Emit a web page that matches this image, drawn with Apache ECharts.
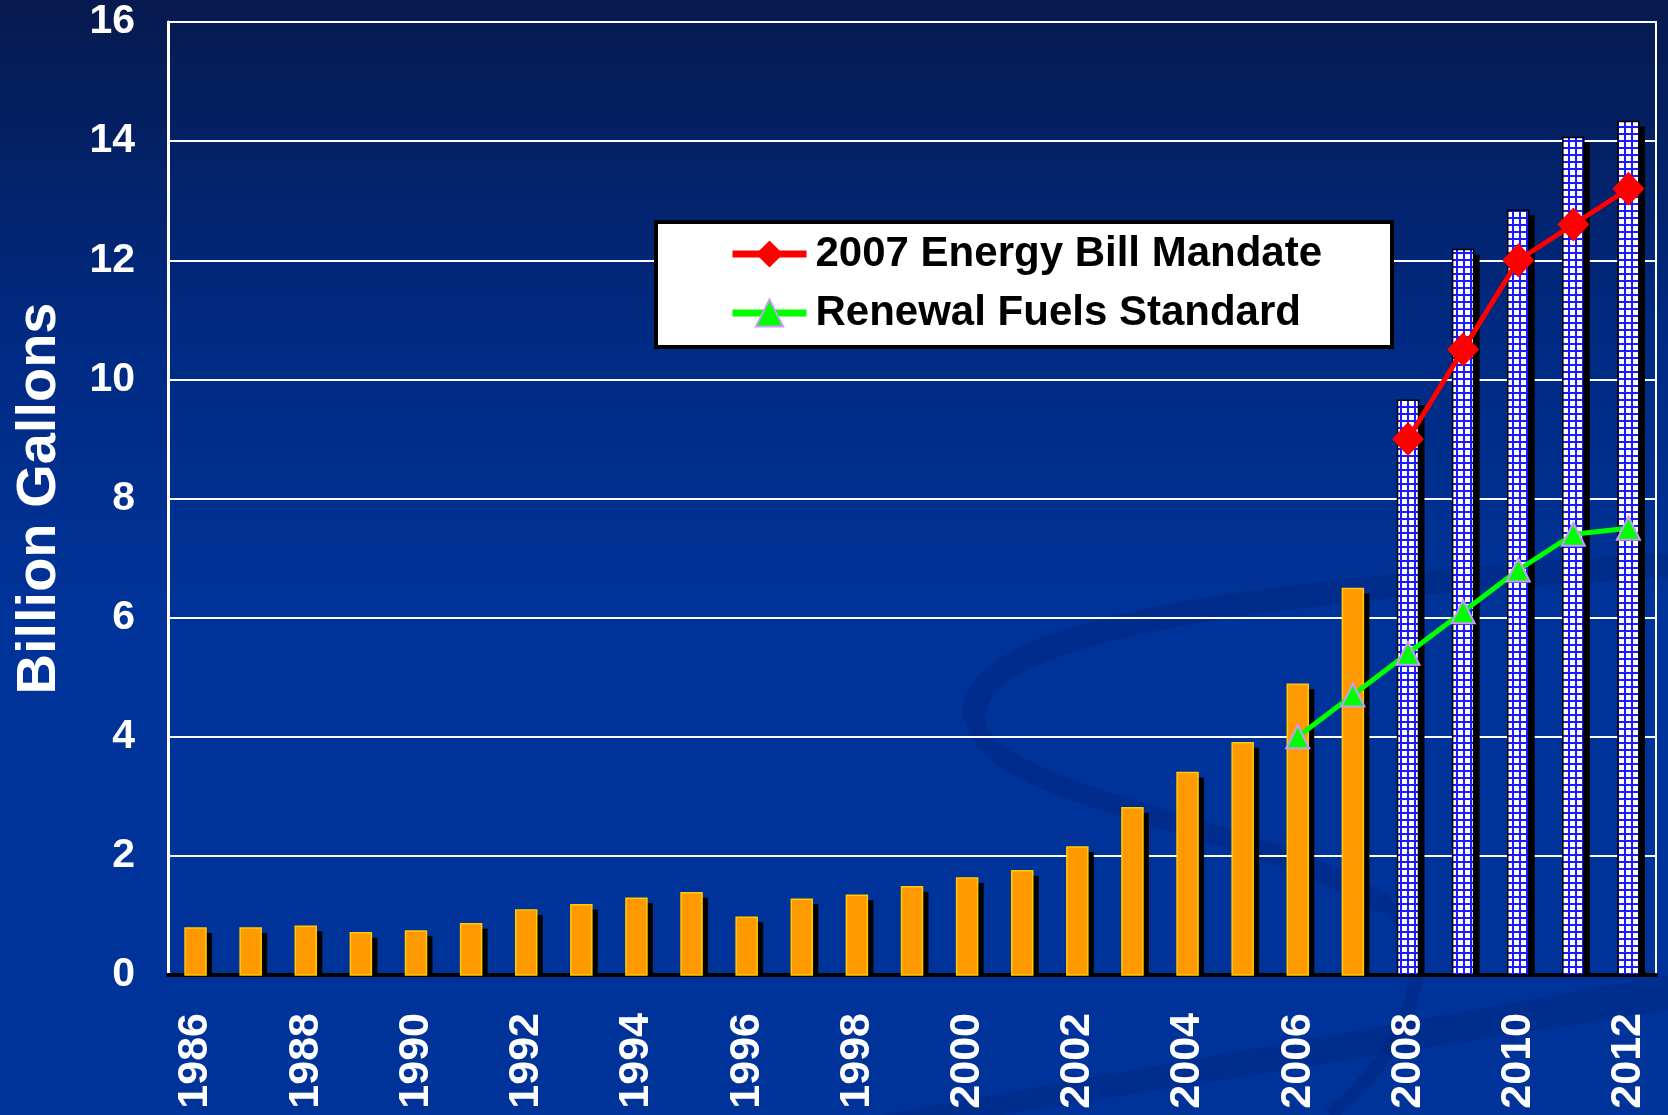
<!DOCTYPE html>
<html lang="en">
<head>
<meta charset="UTF-8">
<title>Ethanol production</title>
<script src="https://cdn.jsdelivr.net/npm/echarts@6/dist/echarts.min.js"></script>
<style>
    html, body { margin: 0; padding: 0; }
    #main { width: 1668px; height: 1115px; }
</style>
</head>
<body>
<div id="main"></div>

<script type="text/javascript">
    var years = ['1986', '1987', '1988', '1989', '1990', '1991', '1992', '1993', '1994',
        '1995', '1996', '1997', '1998', '1999', '2000', '2001', '2002', '2003', '2004',
        '2005', '2006', '2007', '2008', '2009', '2010', '2011', '2012'];

    // production 1986 - 2007 (orange bars)
    var actual = [0.79, 0.79, 0.82, 0.71, 0.74, 0.86, 1.09, 1.18, 1.29, 1.38, 0.97,
        1.27, 1.34, 1.48, 1.63, 1.75, 2.15, 2.81, 3.40, 3.90, 4.88, 6.49];
    // capacity 2008 - 2012 (hatched bars)
    var projected = [9.65, 12.18, 12.84, 14.06, 14.33];
    // 2008 - 2012
    var mandate = [9.0, 10.5, 12.0, 12.6, 13.2];
    // 2006 - 2012
    var rfs = [4.0, 4.7, 5.4, 6.1, 6.8, 7.4, 7.5];

    var yMin = 0, yMax = 16, yStep = 2;

    var font = '"Liberation Sans", Arial, sans-serif';

    // [index, value] pairs, first arr placed from start
    function pairsFrom(start, arr) {
        return arr.map(function (v, i) { return [start + i, v]; });
    }
    function tail(arr) {
        var out = [];
        for (var i = 0; i < years.length - arr.length; i++) out.push(null);
        return out.concat(arr);
    }

    // blue grid pattern for the hatched bars
    var pat = document.createElement('canvas');
    pat.width = 7;
    pat.height = 7;
    var pc = pat.getContext('2d');
    pc.fillStyle = '#ffffff';
    pc.fillRect(0, 0, 7, 7);
    pc.fillStyle = '#1a1aff';
    pc.fillRect(0, 0, 7, 2);
    pc.fillRect(0, 0, 2, 7);

    // bar with a hard black drop shadow (shadow on fill only)
    function shadowBar(fill, stroke) {
        return function (params, api) {
            var top = api.coord([api.value(0), api.value(1)]);
            var base = api.coord([api.value(0), 0]);
            var w = 21;
            var h = base[1] - top[1];
            return {
                type: 'group',
                children: [
                    {
                        type: 'rect',
                        shape: {x: top[0] - w / 2 + 6, y: top[1] + 5, width: w, height: Math.max(h - 5, 0)},
                        style: {fill: '#000'}
                    },
                    {
                        type: 'rect',
                        shape: {x: top[0] - w / 2, y: top[1], width: w, height: h},
                        style: {fill: fill, stroke: stroke, lineWidth: 1.5}
                    }
                ]
            };
        };
    }

    var swoosh = 'rgba(0, 25, 95, 0.2)';

    var myChart = echarts.init(document.getElementById('main'));

    myChart.setOption({
        backgroundColor: {
            type: 'linear', x: 0, y: 0, x2: 0, y2: 1,
            colorStops: [
                {offset: 0, color: '#071a4f'},
                {offset: 0.3, color: '#002a82'},
                {offset: 0.55, color: '#003399'},
                {offset: 1, color: '#003399'}
            ]
        },
        animation: false,
        graphic: [
            {
                type: 'bezierCurve', silent: true, z: -1,
                shape: {x1: 1668, y1: 565, cpx1: 1250, cpy1: 590, cpx2: 960, cpy2: 630, x2: 975, y2: 720},
                style: {stroke: swoosh, lineWidth: 24, fill: null}
            },
            {
                type: 'bezierCurve', silent: true, z: -1,
                shape: {x1: 975, y1: 720, cpx1: 990, cpy1: 800, cpx2: 1250, cpy2: 820, x2: 1385, y2: 905},
                style: {stroke: swoosh, lineWidth: 20, fill: null}
            },
            {
                type: 'bezierCurve', silent: true, z: -1,
                shape: {x1: 1385, y1: 905, cpx1: 1440, cpy1: 945, cpx2: 1420, cpy2: 1040, x2: 1330, y2: 1115},
                style: {stroke: swoosh, lineWidth: 14, fill: null}
            },
            {
                type: 'polygon', silent: true, z: -1,
                shape: {points: [[880, 1115], [1668, 975], [1668, 1010], [1000, 1115]]},
                style: {fill: 'rgba(0, 25, 95, 0.18)'}
            }
        ],
        grid: {
            left: 168, right: 12, top: 22, bottom: 140,
            show: true, borderColor: '#ffffff', borderWidth: 2
        },
        legend: {
            data: ['2007 Energy Bill Mandate', 'Renewal Fuels Standard'],
            orient: 'vertical',
            left: 656, top: 222,
            backgroundColor: '#ffffff',
            borderColor: '#000000',
            borderWidth: 4,
            borderRadius: 0,
            padding: [11, 70, 13, 73],
            itemGap: 17,
            itemWidth: 74,
            itemHeight: 34,
            selectedMode: false,
            lineStyle: {width: 7},
            textStyle: {
                fontSize: 42, fontWeight: 'bold', color: '#000', fontFamily: font,
                padding: [0, 0, 0, 4]
            }
        },
        xAxis: {
            type: 'category',
            data: years,
            axisLine: {lineStyle: {color: '#000', width: 4}},
            axisTick: {show: false},
            axisLabel: {
                interval: 1, rotate: 90, margin: 38,
                color: '#fff', fontSize: 43, fontWeight: 'bold', fontFamily: font
            }
        },
        yAxis: {
            type: 'value',
            min: yMin, max: yMax, interval: yStep,
            name: 'Billion Gallons',
            nameLocation: 'middle',
            nameRotate: 90,
            nameGap: 100,
            nameTextStyle: {color: '#fff', fontSize: 56, fontWeight: 'bold', fontFamily: font},
            axisLine: {show: true, lineStyle: {color: '#ffffff', width: 3}},
            axisTick: {show: false},
            axisLabel: {margin: 33, color: '#fff', fontSize: 41, fontWeight: 'bold', fontFamily: font},
            splitLine: {lineStyle: {color: '#ffffff', width: 2}}
        },
        series: [
            {
                name: 'Production',
                type: 'custom',
                data: pairsFrom(0, actual),
                encode: {x: 0, y: 1},
                renderItem: shadowBar('#ff9900', '#ffcc00'),
                z: 3
            },
            {
                name: 'Capacity',
                type: 'custom',
                data: pairsFrom(years.length - projected.length, projected),
                encode: {x: 0, y: 1},
                renderItem: shadowBar({image: pat, repeat: 'repeat'}, '#000'),
                z: 3
            },
            {
                name: '2007 Energy Bill Mandate',
                type: 'line',
                data: tail(mandate),
                symbol: 'diamond',
                symbolSize: [32, 34],
                lineStyle: {color: '#ff0000', width: 5},
                itemStyle: {color: '#ff0000'},
                z: 5
            },
            {
                name: 'Renewal Fuels Standard',
                type: 'line',
                data: tail(rfs),
                symbol: 'triangle',
                symbolSize: 23,
                lineStyle: {color: '#00ff00', width: 5},
                itemStyle: {color: '#00ff00', borderColor: '#cc99ff', borderWidth: 2},
                z: 5
            }
        ]
    });
</script>
</body>
</html>
